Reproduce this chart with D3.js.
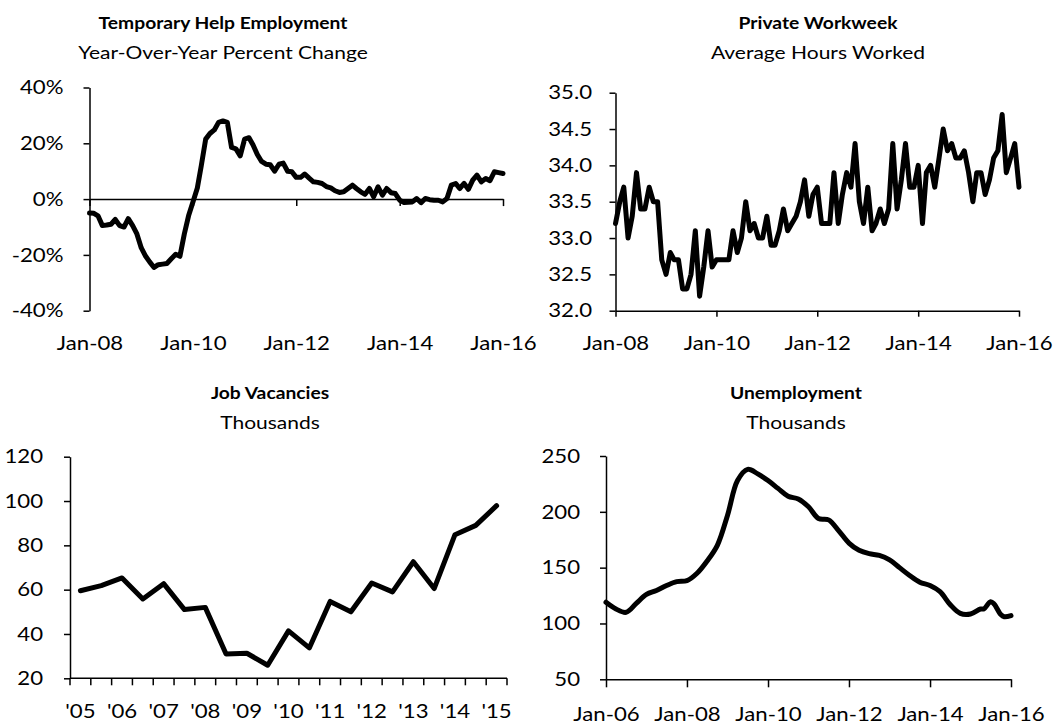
<!DOCTYPE html>
<html><head><meta charset="utf-8">
<script src="https://cdn.jsdelivr.net/npm/d3@7"></script>
<style>
body{margin:0;background:#fff}
svg{display:block}
text{font-family:Lato,"Open Sans",sans-serif;fill:#000}
</style>
</head><body>
<svg id="c" width="1060" height="725"></svg>
<script>
// ---------- DATA ----------
// Temporary Help Employment, YoY % change, monthly Jan-08 .. Jan-16
const tempStart = "2008-01";
const tempValues = [
 -5.0,-5.1,-6.0,-9.5,-9.3,-9.0,-7.3,-9.5,-10.0,-7.0,-9.5,-12.5,
 -17.5,-20.5,-22.5,-24.5,-23.5,-23.3,-23.1,-21.4,-19.8,-20.5,-12.5,-6.0,
 -1.0,4.0,12.0,21.5,23.5,24.8,27.5,28.0,27.5,18.5,18.0,15.5,
 21.5,22.0,19.5,16.0,13.5,12.5,12.3,10.0,12.5,12.9,10.0,9.8,
 7.8,7.8,9.0,7.5,6.2,6.0,5.6,4.5,4.0,3.0,2.4,2.6,
 3.8,5.0,3.8,2.6,1.7,3.8,0.8,4.4,1.4,3.8,2.3,2.0,
 -0.4,-1.2,-1.1,-1.0,0.2,-1.3,0.2,-0.2,-0.4,-0.4,-1.0,0.2,
 5.0,5.6,3.8,5.6,3.5,6.8,8.6,6.2,7.4,6.6,9.8,9.5,
 9.2
];
const tempYTicks = [-40,-20,0,20,40];

// Private Workweek, average hours, monthly Jan-08 .. Jan-16
const hoursStart = "2008-01";
const hoursValues = [
 33.2,33.5,33.7,33.0,33.3,33.9,33.4,33.4,33.7,33.5,33.5,32.7,
 32.5,32.8,32.7,32.7,32.3,32.3,32.5,33.1,32.2,32.6,33.1,32.6,
 32.7,32.7,32.7,32.7,33.1,32.8,33.0,33.5,33.1,33.2,33.0,33.0,
 33.3,32.9,32.9,33.1,33.4,33.1,33.2,33.3,33.5,33.8,33.3,33.6,
 33.7,33.2,33.2,33.2,33.9,33.2,33.6,33.9,33.7,34.3,33.5,33.2,
 33.7,33.1,33.2,33.4,33.2,33.4,34.3,33.4,33.8,34.3,33.7,33.7,
 34.0,33.2,33.9,34.0,33.7,34.1,34.5,34.2,34.3,34.1,34.1,34.2,
 33.9,33.5,33.9,33.9,33.6,33.8,34.1,34.2,34.7,33.9,34.1,34.3,
 33.7
];
const hoursYTicks = [32.0,32.5,33.0,33.5,34.0,34.5,35.0];

// Job Vacancies, thousands, half-yearly 2005 H1 .. 2015 H1
const vacCategories = ["2005 H1","2005 H2","2006 H1","2006 H2","2007 H1","2007 H2","2008 H1","2008 H2",
 "2009 H1","2009 H2","2010 H1","2010 H2","2011 H1","2011 H2","2012 H1","2012 H2","2013 H1","2013 H2",
 "2014 H1","2014 H2","2015 H1"];
const vacValues = [59.5,61.8,65.3,55.8,62.7,51.0,52.0,31.0,31.3,25.9,41.4,33.7,54.7,50.0,63.0,59.0,72.6,60.5,84.8,89.0,97.9];
const vacTickLabels = ["'05","'06","'07","'08","'09","'10","'11","'12","'13","'14","'15"];
const vacYTicks = [20,40,60,80,100,120];

// Unemployment, thousands
const unempDates = ["2006-01","2006-04","2006-07","2006-10","2007-01","2007-04","2007-07","2007-10",
 "2008-01","2008-04","2008-07","2008-10","2009-01","2009-04","2009-07","2009-10",
 "2010-01","2010-04","2010-07","2010-10","2011-01","2011-04","2011-07","2011-10",
 "2012-01","2012-04","2012-07","2012-10","2013-01","2013-04","2013-07","2013-10",
 "2014-01","2014-04","2014-07","2014-10","2015-01","2015-04","2015-05","2015-07",
 "2015-08","2015-10","2015-11","2016-01"];
const unempValues = [119,113,110,118,126,129.5,134,137.5,
 138.4,145,156,170,197,228,238,234,
 228,221,214,211.5,204.5,194,192.8,183,
 172,165.5,162.5,161,157,150,143,137,
 134,128.5,117,109,108.5,113,113,119.5,
 117.5,108,106,107];
const unempYTicks = [50,100,150,200,250];

const dateTicksTop = ["2008-01","2010-01","2012-01","2014-01","2016-01"];
const dateTicksBottom = ["2006-01","2008-01","2010-01","2012-01","2014-01","2016-01"];

// ---------- SETUP ----------
const SX = 1.2;          // horizontal text stretch (to match reference glyph widths)
const TICK_FS = 18.5;
const parseM = d3.timeParse("%Y-%m");
const fmtDate = d3.timeFormat("Jan-%y");
const svg = d3.select("#c");

function monthly(start, values){
  const s = parseM(start);
  return values.map((v,i)=>({d:d3.timeMonth.offset(s,i), v}));
}

function styleAxis(g){
  g.selectAll(".domain").attr("stroke","#000").attr("stroke-width",1.5);
  g.selectAll(".tick line").attr("stroke","#000").attr("stroke-width",1.5);
  g.selectAll("text").attr("font-family",null).style("font-size",TICK_FS+"px").attr("fill","#000");
}
function leftLabels(g, gap){
  g.selectAll("text").attr("x", -gap/SX).attr("transform",`scale(${SX},1)`).attr("dy","0.34em");
}
function bottomLabels(g, offset){
  g.selectAll("text").attr("y", offset).attr("dy","0.34em").attr("transform",`scale(${SX},1)`);
}
function title(cx, y1, t1, y2, t2){
  const g = svg.append("g");
  g.append("text").attr("transform",`translate(${cx},${y1}) scale(1.1,1)`)
    .attr("text-anchor","middle").style("font-size","17.5px").style("font-weight","bold").text(t1);
  g.append("text").attr("transform",`translate(${cx},${y2}) scale(${SX},1)`)
    .attr("text-anchor","middle").style("font-size","17.5px").text(t2);
}
function drawLine(data, x, y, curve){
  svg.append("path").datum(data)
    .attr("fill","none").attr("stroke","#000").attr("stroke-width",5)
    .attr("stroke-linejoin","round").attr("stroke-linecap","round")
    .attr("d", d3.line().x(d=>x(d.d)).y(d=>y(d.v)).curve(curve||d3.curveLinear));
}

// ---------- PANEL 1: Temporary Help ----------
{
  const x = d3.scaleTime().domain([parseM("2008-01"),parseM("2016-01")]).range([89.5,503]);
  const y = d3.scaleLinear().domain([-40,40]).range([310.7,87.5]);
  const gy = svg.append("g").attr("transform","translate(89.5,0)")
    .call(d3.axisLeft(y).tickValues(tempYTicks).tickSize(6).tickSizeOuter(0).tickFormat(d=>d+"%"));
  styleAxis(gy); leftLabels(gy, 26);
  const gx = svg.append("g").attr("transform",`translate(0,${y(0)})`)
    .call(d3.axisBottom(x).tickValues(dateTicksTop.map(parseM)).tickSize(7).tickSizeOuter(0).tickFormat(fmtDate));
  styleAxis(gx); bottomLabels(gx, 344 - y(0));
  drawLine(monthly(tempStart,tempValues), x, y);
  title(223, 28.5, "Temporary Help Employment", 58.5, "Year-Over-Year Percent Change");
}

// ---------- PANEL 2: Private Workweek ----------
{
  const x = d3.scaleTime().domain([parseM("2008-01"),parseM("2016-01")]).range([615.5,1019]);
  const y = d3.scaleLinear().domain([32,35]).range([310.7,92.7]);
  const gy = svg.append("g").attr("transform","translate(615.5,0)")
    .call(d3.axisLeft(y).tickValues(hoursYTicks).tickSize(6).tickSizeOuter(0).tickFormat(d3.format(".1f")));
  styleAxis(gy); leftLabels(gy, 23.5);
  const gx = svg.append("g").attr("transform",`translate(0,${y(32)})`)
    .call(d3.axisBottom(x).tickValues(dateTicksTop.map(parseM)).tickSize(6).tickSizeOuter(0).tickFormat(fmtDate));
  styleAxis(gx); bottomLabels(gx, 344 - y(32));
  drawLine(monthly(hoursStart,hoursValues), x, y);
  title(818, 28.5, "Private Workweek", 58.5, "Average Hours Worked");
}

// ---------- PANEL 3: Job Vacancies ----------
{
  const x = d3.scaleBand().domain(vacCategories).range([70,507]).padding(0);
  const y = d3.scaleLinear().domain([20,120]).range([678.3,456.7]);
  const gy = svg.append("g").attr("transform","translate(70,0)")
    .call(d3.axisLeft(y).tickValues(vacYTicks).tickSize(6).tickSizeOuter(0));
  styleAxis(gy); leftLabels(gy, 27);
  const gx = svg.append("g").attr("transform",`translate(0,${y(20)})`);
  gx.append("line").attr("x1",x.range()[0]).attr("x2",x.range()[1]).attr("stroke","#000").attr("stroke-width",1.5);
  const bounds = vacCategories.map(c=>x(c)).concat([x.range()[1]]);
  gx.selectAll("line.tk").data(bounds).join("line").attr("class","tk")
    .attr("x1",d=>d).attr("x2",d=>d).attr("y1",0).attr("y2",7).attr("stroke","#000").attr("stroke-width",1.5);
  const labelCats = vacCategories.filter(c=>c.endsWith("H1"));
  gx.selectAll("text").data(labelCats).join("text")
    .attr("transform",(c)=>`translate(${x(c)+x.bandwidth()/2},${712-y(20)}) scale(${SX},1)`)
    .attr("text-anchor","middle").attr("dy","0.34em").style("font-size",TICK_FS+"px")
    .text((c,i)=>vacTickLabels[i]);
  svg.append("path").datum(vacValues)
    .attr("fill","none").attr("stroke","#000").attr("stroke-width",5)
    .attr("stroke-linejoin","round").attr("stroke-linecap","round")
    .attr("d", d3.line().x((d,i)=>x(vacCategories[i])+x.bandwidth()/2).y(d=>y(d)));
  title(270, 399, "Job Vacancies", 428.5, "Thousands");
}

// ---------- PANEL 4: Unemployment ----------
{
  const x = d3.scaleTime().domain([parseM("2006-01"),parseM("2016-01")]).range([606,1011]);
  const y = d3.scaleLinear().domain([50,250]).range([679.3,456]);
  const gy = svg.append("g").attr("transform","translate(606,0)")
    .call(d3.axisLeft(y).tickValues(unempYTicks).tickSize(6).tickSizeOuter(0));
  styleAxis(gy); leftLabels(gy, 26);
  const gx = svg.append("g").attr("transform",`translate(0,${y(50)})`)
    .call(d3.axisBottom(x).tickValues(dateTicksBottom.map(parseM)).tickSize(8).tickSizeOuter(0).tickFormat(fmtDate));
  styleAxis(gx); bottomLabels(gx, 715 - y(50));
  const data = unempDates.map((d,i)=>({d:parseM(d), v:unempValues[i]}));
  drawLine(data, x, y, d3.curveCatmullRom.alpha(0.5));
  title(796, 399, "Unemployment", 428.5, "Thousands");
}
</script>
</body></html>
